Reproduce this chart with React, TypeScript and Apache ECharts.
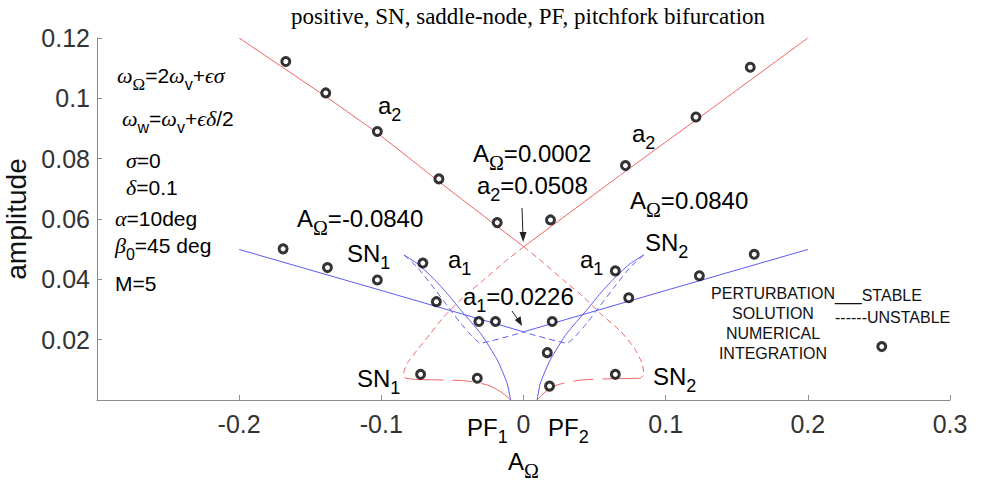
import React, { useEffect, useRef } from "react";
import * as echarts from "echarts";

// ---- axes ----
const X_MIN = -0.3;
const X_MAX = 0.3;
const X_STEP = 0.1;
const Y_MIN = 0;
const Y_MAX = 0.12;
const Y_STEP = 0.02;

// ---- perturbation solution curves [A_Omega, amplitude] ----
const a2StableLeft = [
  [-0.2, 0.12], [-0.1391, 0.1006], [-0.1028, 0.0885], [-0.0595, 0.0724], [0.0002, 0.0508],
];
const a2StableRight = [
  [0.0002, 0.0508], [0.0717, 0.0758], [0.1213, 0.0928], [0.2, 0.12],
];
const a2UnstableLeft = [
  [0.0002, 0.0508], [-0.014, 0.0455], [-0.028, 0.0398], [-0.042, 0.0342], [-0.056, 0.0276],
  [-0.0653, 0.0221], [-0.0747, 0.0166], [-0.0817, 0.0122], [-0.0843, 0.0088], [-0.083, 0.0072],
];
const a2UnstableRight = [
  [0.0002, 0.0508], [0.014, 0.0455], [0.028, 0.0398], [0.042, 0.0342], [0.055, 0.0283],
  [0.0682, 0.0228], [0.0775, 0.0175], [0.0834, 0.0122], [0.0846, 0.0085], [0.0822, 0.0072],
];
const a2LowLeft = [
  [-0.083, 0.0072], [-0.075, 0.0068], [-0.0653, 0.0067], [-0.042, 0.0064], [-0.0255, 0.005],
  [-0.0162, 0.0028], [-0.0103, 0.0006], [-0.0091, 0],
];
const a2LowRight = [
  [0.0822, 0.0072], [0.0658, 0.0071], [0.04, 0.0066], [0.0237, 0.005], [0.0155, 0.0028],
  [0.0108, 0.0006], [0.0096, 0],
];
const a1StableLeft = [[-0.2, 0.0499], [-0.1, 0.0363], [0.0, 0.0226]];
const a1StableRight = [[0.0, 0.0226], [0.1, 0.0363], [0.2, 0.0499]];
const a1PFLeft = [
  [-0.0091, 0], [-0.0115, 0.0055], [-0.0185, 0.0133], [-0.0302, 0.0221], [-0.0443, 0.0299],
  [-0.054, 0.0355], [-0.0653, 0.0412], [-0.0747, 0.0452], [-0.0841, 0.0481],
];
const a1PFRight = [
  [0.0096, 0], [0.0118, 0.0055], [0.0188, 0.0133], [0.0305, 0.0221], [0.0446, 0.0299],
  [0.0543, 0.0355], [0.0656, 0.0412], [0.075, 0.0452], [0.0846, 0.0481],
];
const a1UnstableLeft = [
  [-0.0841, 0.0481], [-0.0747, 0.044], [-0.0653, 0.0385], [-0.054, 0.0315], [-0.0443, 0.0255],
  [-0.036, 0.021], [-0.0305, 0.0188], [0.0, 0.0225],
];
const a1UnstableRight = [
  [0.0846, 0.0481], [0.075, 0.044], [0.0656, 0.0385], [0.0543, 0.0315], [0.0446, 0.0255],
  [0.0363, 0.021], [0.0308, 0.0188], [0.0, 0.0225],
];

// ---- numerical integration points ----
const numerical = [
  [-0.1672, 0.1122], [-0.1391, 0.1018], [-0.1028, 0.089], [-0.0595, 0.0733], [-0.0185, 0.0588],
  [0.019, 0.0597], [0.0717, 0.0777], [0.1213, 0.0938], [0.1595, 0.1103],
  [-0.1691, 0.0501], [-0.1379, 0.0439], [-0.1028, 0.0398], [-0.0708, 0.0454], [-0.0613, 0.0326],
  [-0.0314, 0.026], [-0.0197, 0.026],
  [0.0202, 0.026], [0.0167, 0.0157], [0.0646, 0.0428], [0.074, 0.0339], [0.1237, 0.0412], [0.1623, 0.0483],
  [-0.0724, 0.0085], [-0.0325, 0.0072], [0.0183, 0.0046], [0.0646, 0.0085],
];
const legendMarker = [[0.252, 0.0177]];

const RED = "#f06262";
const BLUE = "#5c5cf2";
const SANS = "Liberation Sans, Arial, sans-serif";
const SERIF = "Liberation Serif, DejaVu Serif, serif";

const RICH: any = {
  n: { fontSize: 24, fontFamily: SANS, color: "#000", lineHeight: 30 },
  s: { fontSize: 18, fontFamily: SANS, color: "#000", lineHeight: 10, padding: [20, 0, 0, 0] },
  so: { fontSize: 20, fontFamily: SERIF, color: "#000", lineHeight: 10, padding: [20, 0, 0, 0] },
  n2: { fontSize: 21, fontFamily: SANS, color: "#000", lineHeight: 26 },
  g2: { fontSize: 22, fontFamily: SERIF, fontStyle: "italic", color: "#000", lineHeight: 26 },
  s2: { fontSize: 16, fontFamily: SANS, color: "#000", lineHeight: 8, padding: [18, 0, 0, 0] },
  so2: { fontSize: 17, fontFamily: SERIF, color: "#000", lineHeight: 8, padding: [18, 0, 0, 0] },
};

function txt(x: number, y: number, text: string, extra: any = {}) {
  return {
    type: "text",
    x,
    y,
    z: 100,
    style: { text, rich: RICH, verticalAlign: "middle", align: "left", fill: "#000", ...extra },
  };
}

function lineSeries(name: string, data: number[][], color: string, dashed: any, smooth = 0.2, width = 1) {
  return {
    name,
    type: "line",
    data,
    showSymbol: false,
    smooth,
    silent: true,
    lineStyle: { color, width, type: dashed || "solid" },
    z: 2,
  };
}

export default function App() {
  const ref = useRef<HTMLDivElement>(null);
  useEffect(() => {
    if (!ref.current) return;
    const chart = echarts.init(ref.current, undefined, { renderer: "svg" });
    const axisGray = "#8c8c8c";
    const option: any = {
      animation: false,
      backgroundColor: "#fff",
      title: {
        text: "positive, SN, saddle-node, PF, pitchfork bifurcation",
        left: 523,
        top: 0,
        textAlign: "center",
        textStyle: { fontFamily: SERIF, fontSize: 23, fontWeight: "normal", color: "#000" },
      },
      grid: { left: 97, right: 33, top: 38, bottom: 84, containLabel: false, outerBoundsMode: "none" },
      xAxis: {
        type: "value",
        min: X_MIN,
        max: X_MAX,
        interval: X_STEP,
        splitLine: { show: false },
        axisLine: { onZero: false, lineStyle: { color: axisGray, width: 1 } },
        axisTick: { inside: true, length: 5, lineStyle: { color: axisGray } },
        axisLabel: {
          showMinLabel: false,
          fontSize: 25,
          fontFamily: SANS,
          color: "#333",
          margin: 11,
        },
      },
      yAxis: {
        type: "value",
        min: Y_MIN,
        max: Y_MAX,
        interval: Y_STEP,
        name: "amplitude",
        nameLocation: "middle",
        nameGap: 62,
        nameTextStyle: { fontSize: 28, fontFamily: SANS, color: "#111" },
        splitLine: { show: false },
        axisLine: { onZero: false, lineStyle: { color: axisGray, width: 1 } },
        axisTick: { inside: true, length: 5, lineStyle: { color: axisGray } },
        axisLabel: {
          showMinLabel: false,
          fontSize: 25,
          fontFamily: SANS,
          color: "#333",
          margin: 7,
        },
      },
      series: [
        lineSeries("a2 stable left", a2StableLeft, RED, null, 0.1),
        lineSeries("a2 stable right", a2StableRight, RED, null, 0.1),
        lineSeries("a2 unstable left", a2UnstableLeft, RED, [6, 4]),
        lineSeries("a2 unstable right", a2UnstableRight, RED, [6, 4]),
        lineSeries("a2 low left", a2LowLeft, RED, [38, 9, 20, 9, 200]),
        lineSeries("a2 low right", a2LowRight, RED, [38, 9, 20, 9, 200]),
        lineSeries("a1 stable left", a1StableLeft, BLUE, null, 0),
        lineSeries("a1 stable right", a1StableRight, BLUE, null, 0),
        lineSeries("a1 PF1", a1PFLeft, BLUE, null),
        lineSeries("a1 PF2", a1PFRight, BLUE, null),
        lineSeries("a1 unstable left", a1UnstableLeft, BLUE, [6, 4], 0.1),
        lineSeries("a1 unstable right", a1UnstableRight, BLUE, [6, 4], 0.1),
        {
          name: "numerical integration",
          type: "scatter",
          data: numerical,
          symbol: "circle",
          symbolSize: 8,
          itemStyle: { color: "#fff", borderColor: "#000", borderWidth: 3 },
          z: 5,
        },
        {
          name: "legend marker",
          type: "scatter",
          data: legendMarker,
          symbol: "circle",
          symbolSize: 8,
          itemStyle: { color: "#fff", borderColor: "#000", borderWidth: 3 },
          z: 5,
        },
      ],
      graphic: [
        // left parameter block
        txt(117, 75, "{g2|ω}{so2|Ω}{n2|=2}{g2|ω}{s2|v}{n2|+}{g2|ϵσ}"),
        txt(122, 118, "{g2|ω}{s2|w}{n2|=}{g2|ω}{s2|v}{n2|+}{g2|ϵδ}{n2|/2}"),
        txt(126, 160, "{g2|σ}{n2|=0}"),
        txt(126, 187, "{g2|δ}{n2|=0.1}"),
        txt(115, 218, "{g2|α}{n2|=10deg}"),
        txt(115, 245, "{g2|β}{s2|0}{n2|=45 deg}"),
        txt(115, 283, "{n2|M=5}"),
        // branch labels
        txt(378, 105, "{n|a}{s|2}"),
        txt(632, 133, "{n|a}{s|2}"),
        txt(473, 153, "{n|A}{so|Ω}{n|=0.0002}"),
        txt(477, 185, "{n|a}{s|2}{n|=0.0508}"),
        txt(297, 218, "{n|A}{so|Ω}{n|=-0.0840}"),
        txt(630, 200, "{n|A}{so|Ω}{n|=0.0840}"),
        txt(347, 253, "{n|SN}{s|1}"),
        txt(645, 242, "{n|SN}{s|2}"),
        txt(448, 259, "{n|a}{s|1}"),
        txt(580, 259, "{n|a}{s|1}"),
        txt(463, 296, "{n|a}{s|1}{n|=0.0226}"),
        txt(357, 378, "{n|SN}{s|1}"),
        txt(653, 376, "{n|SN}{s|2}"),
        txt(467, 427, "{n|PF}{s|1}"),
        txt(548, 427, "{n|PF}{s|2}"),
        // x axis name
        txt(508, 461, "{n|A}{so|Ω}"),
        // legend
        {
          type: "text",
          x: 773,
          y: 323,
          z: 100,
          style: {
            text: "PERTURBATION\nSOLUTION\nNUMERICAL\nINTEGRATION",
            fontSize: 16,
            fontFamily: SANS,
            lineHeight: 20,
            align: "center",
            verticalAlign: "middle",
            fill: "#111",
          },
        },
        {
          type: "text",
          x: 835,
          y: 295,
          z: 100,
          style: { text: "___STABLE", fontSize: 16, fontFamily: SANS, verticalAlign: "middle", fill: "#111" },
        },
        {
          type: "text",
          x: 835,
          y: 317,
          z: 100,
          style: { text: "------UNSTABLE", fontSize: 16, fontFamily: SANS, verticalAlign: "middle", fill: "#111" },
        },
        // arrows
        { type: "line", z: 100, shape: { x1: 522, y1: 208, x2: 523, y2: 236 }, style: { stroke: "#222", lineWidth: 1 } },
        { type: "polygon", z: 100, shape: { points: [[523.2, 242], [519.5, 232], [526.5, 232]] }, style: { fill: "#222" } },
        { type: "line", z: 100, shape: { x1: 512, y1: 311, x2: 519, y2: 321 }, style: { stroke: "#222", lineWidth: 1 } },
        { type: "polygon", z: 100, shape: { points: [[522, 326], [514.8, 319.9], [520.6, 316.3]] }, style: { fill: "#222" } },
      ],
    };
    chart.setOption(option);
    return () => chart.dispose();
  }, []);
  return (
    <div
      ref={ref}
      style={{ position: "fixed", left: 0, top: 0, width: 983, height: 484, background: "#fff" }}
    />
  );
}
